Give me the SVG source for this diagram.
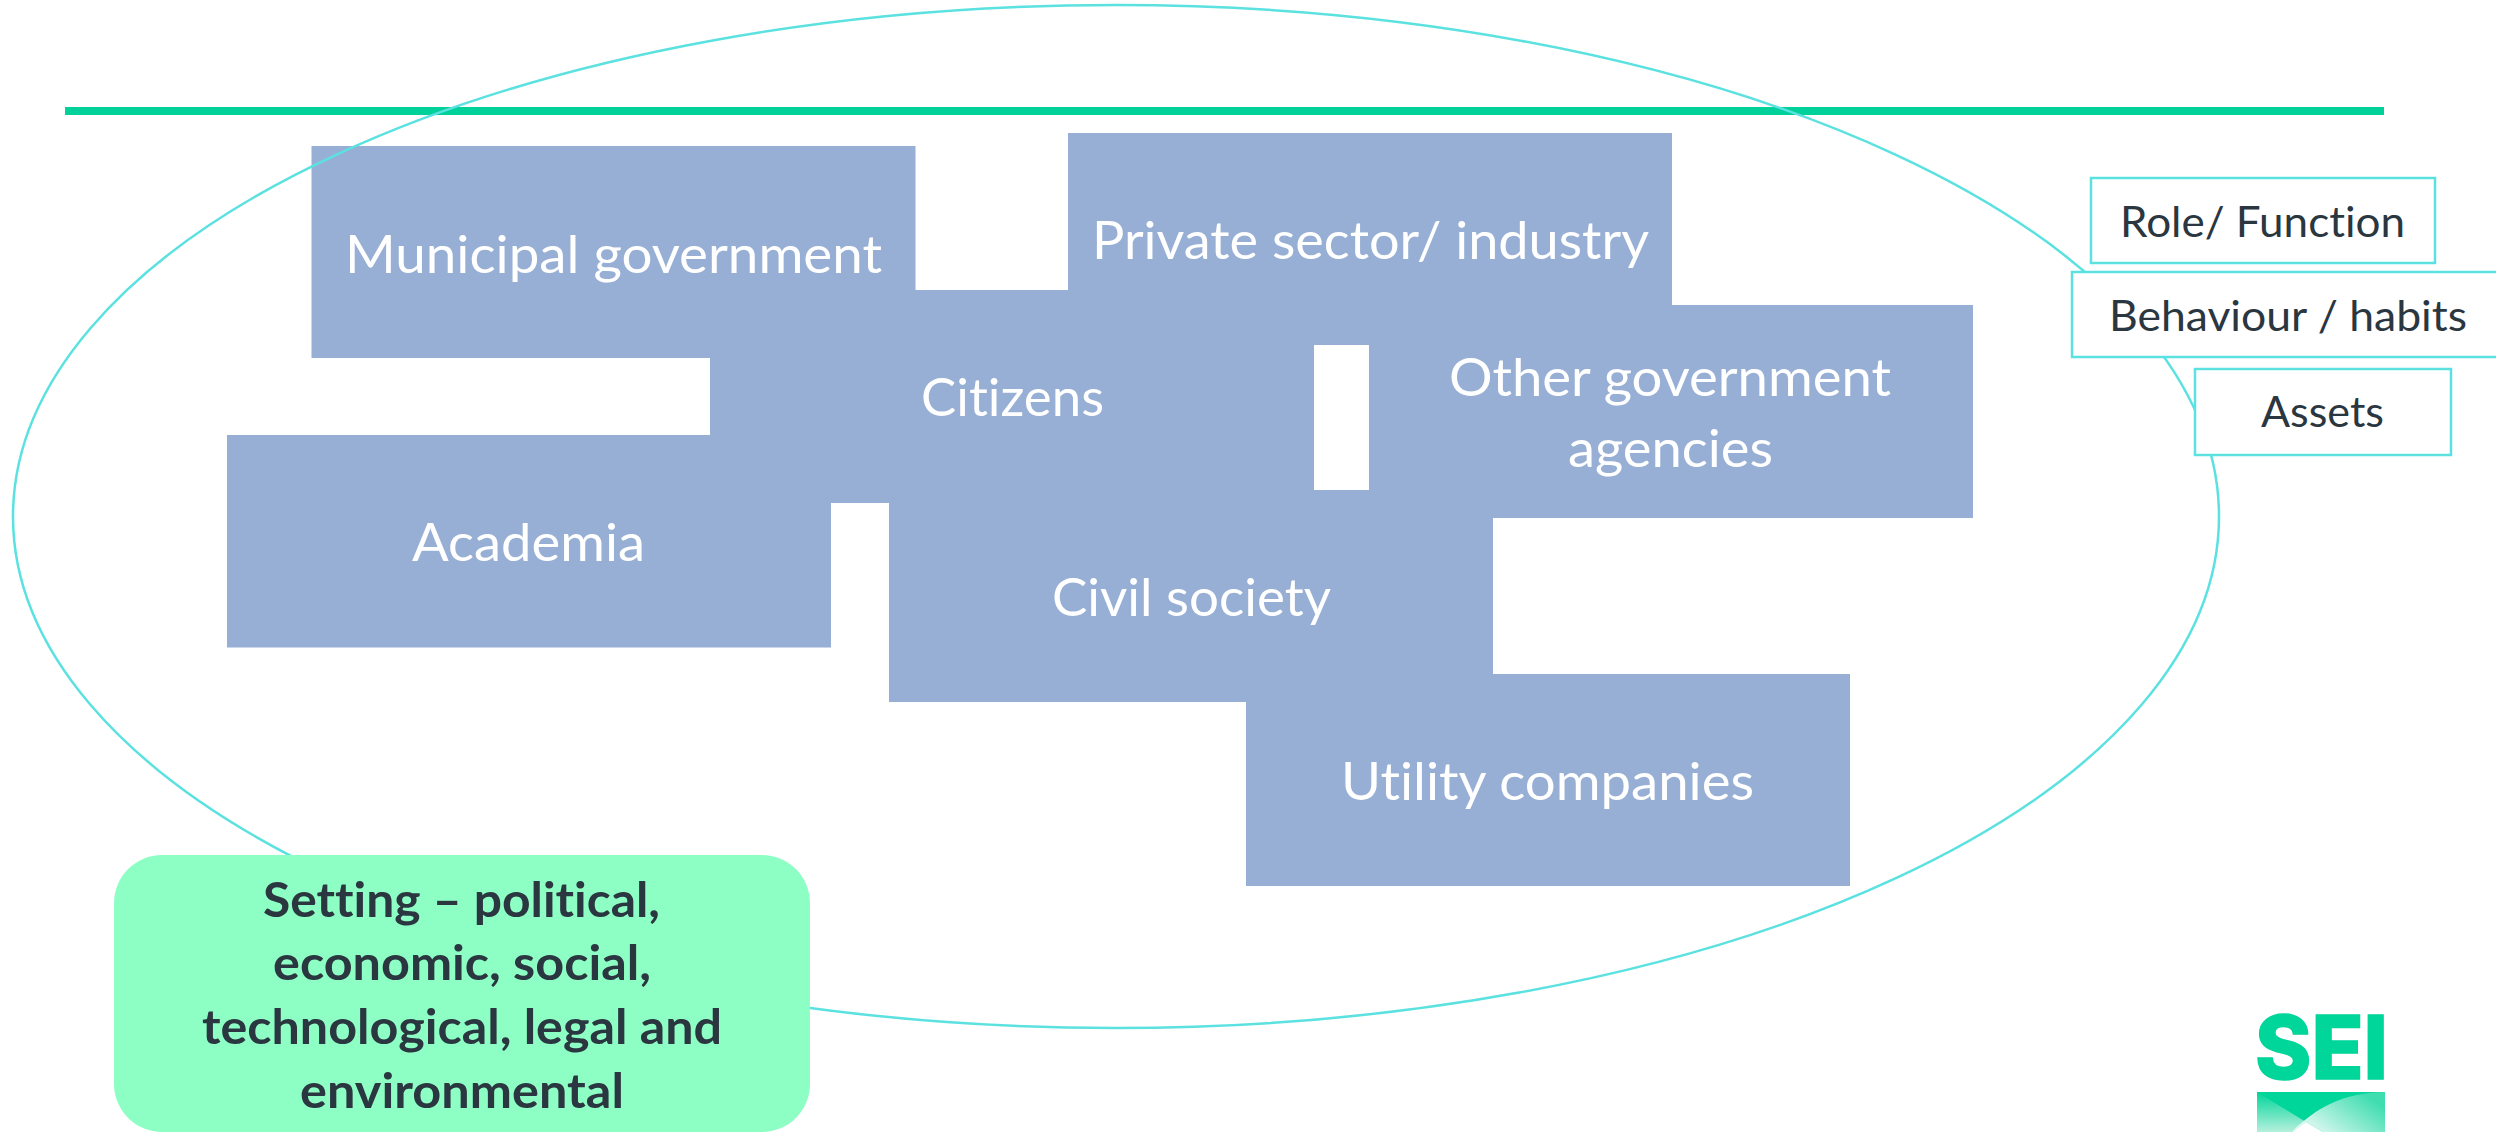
<svg xmlns="http://www.w3.org/2000/svg" width="2496" height="1132" viewBox="0 0 2496 1132">
<style>
text{font-variant-ligatures:none}
.box{fill:#97AFD4}
.t{font-family:"Lato","Carlito","Liberation Sans",sans-serif;font-size:53px;fill:#fff}
.k{font-family:"Lato","Carlito","Liberation Sans",sans-serif;font-size:43px;fill:#2B3740}
.b{font-family:"Lato","Carlito","Liberation Sans",sans-serif;font-size:47px;font-weight:700;fill:#2B3740}
.tag{fill:#fff;stroke:#5CE1E1;stroke-width:2.5}
</style>
<defs>
<linearGradient id="lg1" x1="0" y1="0" x2="0" y2="1"><stop offset="0" stop-color="#00D59A"/><stop offset="1" stop-color="#B5F0DC"/></linearGradient>
<linearGradient id="lg2" x1="0" y1="1" x2="1" y2="0.4"><stop offset="0" stop-color="#FFFFFF"/><stop offset="1" stop-color="#3FDDB0"/></linearGradient>
</defs>
<rect width="2496" height="1132" fill="#fff"/>
<rect id="rule" x="65" y="107" width="2319" height="8" fill="#00D09A"/>
<g id="node-municipal"><rect class="box" x="311.5" y="146" width="604" height="212"/><text class="t" x="345" y="272.5" textLength="537" lengthAdjust="spacingAndGlyphs">Municipal government</text></g>
<g id="node-private"><rect class="box" x="1068" y="133" width="604" height="212"/><text class="t" x="1092" y="258.5" textLength="557" lengthAdjust="spacingAndGlyphs">Private sector/ industry</text></g>
<g id="node-citizens"><rect class="box" x="710" y="290" width="604" height="213"/><text class="t" x="921" y="416" textLength="183" lengthAdjust="spacingAndGlyphs">Citizens</text></g>
<g id="node-other"><rect class="box" x="1369" y="305" width="604" height="213"/><text class="t" x="1449" y="396" textLength="442" lengthAdjust="spacingAndGlyphs">Other government</text><text class="t" x="1568" y="467" textLength="205" lengthAdjust="spacingAndGlyphs">agencies</text></g>
<g id="node-academia"><rect class="box" x="227" y="435" width="604" height="212.5"/><text class="t" x="412" y="561" textLength="233" lengthAdjust="spacingAndGlyphs">Academia</text></g>
<g id="node-civil"><rect class="box" x="889" y="490" width="604" height="212"/><text class="t" x="1052" y="616" textLength="279" lengthAdjust="spacingAndGlyphs">Civil society</text></g>
<g id="node-utility"><rect class="box" x="1246" y="674" width="604" height="212"/><text class="t" x="1341" y="800" textLength="413" lengthAdjust="spacingAndGlyphs">Utility companies</text></g>
<g id="connectors"><ellipse cx="1116" cy="516.5" rx="1103" ry="511.5" fill="none" stroke="#5CE1E1" stroke-width="2.5"/></g>
<g id="node-role"><rect class="tag" x="2091" y="178" width="344" height="85"/><text class="k" x="2120" y="237" textLength="285" lengthAdjust="spacingAndGlyphs">Role/ Function</text></g>
<g id="node-behaviour"><rect class="tag" x="2072" y="272" width="440" height="85"/><text class="k" x="2109" y="331" textLength="358" lengthAdjust="spacingAndGlyphs">Behaviour / habits</text></g>
<g id="node-assets"><rect class="tag" x="2195" y="369" width="256" height="86"/><text class="k" x="2261" y="427" textLength="123" lengthAdjust="spacingAndGlyphs">Assets</text></g>
<g id="node-setting"><rect x="114" y="855" width="696" height="277" rx="48" ry="48" fill="#8EFFC4"/>
<text class="b" x="263" y="917" textLength="397" lengthAdjust="spacingAndGlyphs">Setting – political,</text>
<text class="b" x="273" y="980" textLength="378" lengthAdjust="spacingAndGlyphs">economic, social,</text>
<text class="b" x="202" y="1044" textLength="520" lengthAdjust="spacingAndGlyphs">technological, legal and</text>
<text class="b" x="300" y="1108" textLength="324" lengthAdjust="spacingAndGlyphs">environmental</text></g>
<g id="logo">
<text x="2255" y="1079" font-family="Inter,Liberation Sans,sans-serif" font-weight="800" font-size="88" fill="#00D59A" stroke="#00D59A" stroke-width="1.5" textLength="133" lengthAdjust="spacingAndGlyphs">SEI</text>
<rect x="2257" y="1092" width="128" height="40" fill="#00D59A"/>
<path d="M2257 1092L2306 1122L2292 1132H2257Z" fill="url(#lg1)"/>
<path d="M2292 1132C2315 1108 2345 1092 2385 1092V1132H2323L2306 1122Z" fill="url(#lg2)"/>
<path d="M2292 1132L2306 1122L2323 1132Z" fill="#fff"/>
</g>
</svg>
